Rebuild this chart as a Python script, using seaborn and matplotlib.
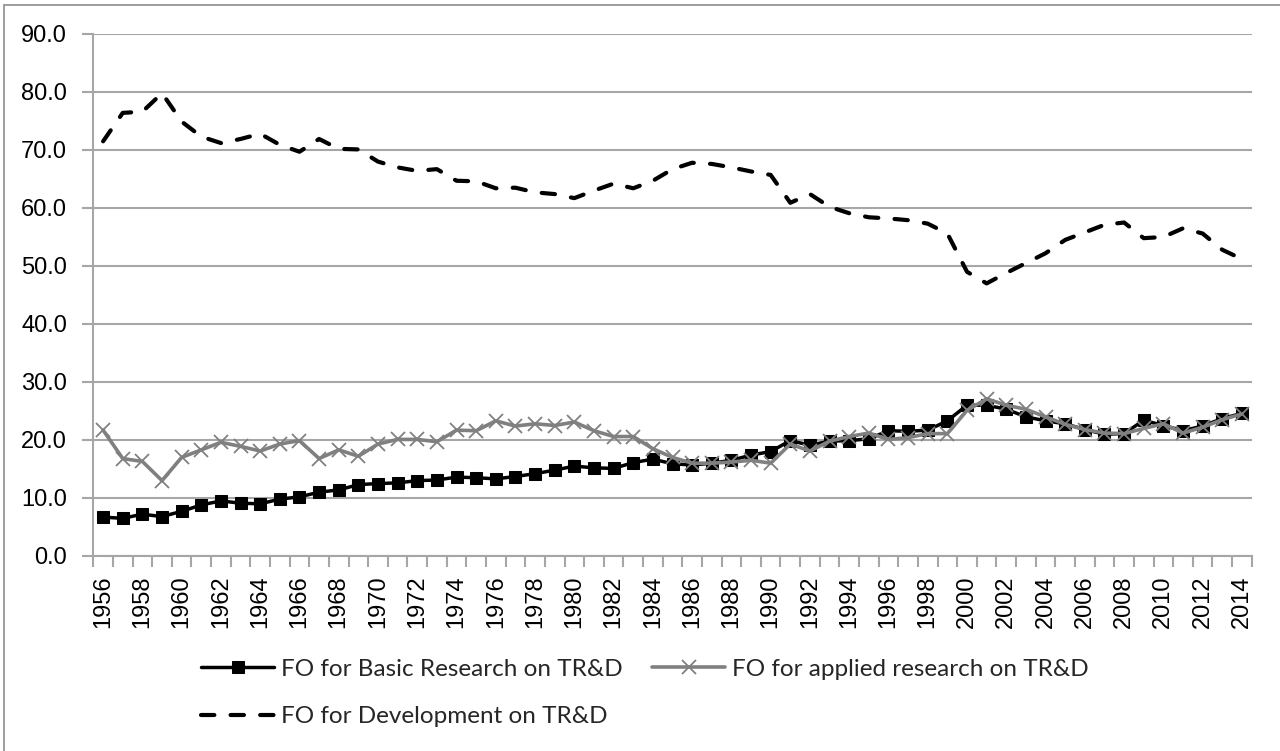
import matplotlib
matplotlib.use("Agg")
import matplotlib.pyplot as plt
import matplotlib.ticker as mticker
from matplotlib.patches import Rectangle
import seaborn as sns
import pandas as pd

years = list(range(1956, 2015))

basic = [6.7, 6.5, 7.2, 6.8, 7.7, 8.8, 9.5, 9.1, 9.0, 9.8,
         10.2, 11.0, 11.4, 12.3, 12.5, 12.6, 13.0, 13.1, 13.6, 13.5,
         13.3, 13.7, 14.2, 14.8, 15.5, 15.2, 15.1, 16.1, 16.7, 15.9,
         15.7, 16.0, 16.5, 17.4, 18.0, 19.9, 19.1, 19.8, 19.9, 20.2,
         21.6, 21.5, 21.7, 23.3, 26.0, 26.0, 25.3, 24.0, 23.3, 22.8,
         21.8, 21.0, 21.1, 23.4, 22.5, 21.6, 22.4, 23.7, 24.6]

applied = [21.7, 16.8, 16.3, 13.0, 17.0, 18.3, 19.6, 18.9, 18.1, 19.3,
           19.9, 16.8, 18.3, 17.2, 19.3, 20.1, 20.1, 19.7, 21.7, 21.6,
           23.3, 22.4, 22.8, 22.5, 23.1, 21.6, 20.6, 20.6, 18.5, 17.0,
           16.0, 16.0, 16.2, 16.5, 16.0, 19.3, 18.1, 19.8, 20.6, 21.2,
           20.1, 20.4, 21.1, 21.1, 25.1, 27.1, 26.0, 25.3, 24.0, 22.7,
           21.8, 21.2, 21.1, 22.0, 22.8, 21.2, 22.2, 23.5, 24.5]

development = [71.5, 76.4, 76.6, 79.8, 74.9, 72.3, 71.2, 71.9, 72.8, 70.9,
               69.7, 71.9, 70.2, 70.1, 68.0, 67.0, 66.4, 66.7, 64.7, 64.6,
               63.4, 63.5, 62.7, 62.4, 61.7, 63.0, 64.2, 63.4, 64.7, 66.7,
               67.8, 67.6, 67.0, 66.3, 65.7, 60.9, 62.4, 60.2, 59.1, 58.4,
               58.2, 57.9, 57.3, 55.6, 49.0, 47.0, 48.8, 50.5, 52.2, 54.5,
               55.8, 57.1, 57.5, 54.8, 55.0, 56.5, 55.6, 52.8, 51.2]

labels = ["FO for Basic Research on TR&D",
          "FO for applied research on TR&D",
          "FO for Development on TR&D"]

df = pd.DataFrame({"year": years, "basic": basic,
                   "applied": applied, "development": development})

sns.set_style("white")
plt.rcParams["font.family"] = ["Liberation Sans", "DejaVu Sans"]

W, H = 1280, 751
fig = plt.figure(figsize=(W / 100, H / 100), dpi=100)
ax = fig.add_axes([93.3 / W, 1 - 556 / H, (1251.7 - 93.3) / W, (556 - 34) / H])

grid_c = "#a6a6a6"
ax.yaxis.grid(True, color=grid_c, linewidth=1.5)
ax.set_axisbelow(True)

sns.lineplot(data=df, x="year", y="basic", ax=ax, color="black",
             linewidth=2.5, marker="s", markersize=9, markeredgecolor="black",
             label=labels[0], legend=False)
sns.lineplot(data=df, x="year", y="applied", ax=ax, color="#808080",
             linewidth=2.6, marker="x", markersize=10, markeredgewidth=1.3,
             markeredgecolor="#808080", label=labels[1], legend=False)
sns.lineplot(data=df, x="year", y="development", ax=ax, color="black",
             linewidth=3.0, linestyle=(0, (3.2, 3.9)), dash_capstyle="round",
             label=labels[2], legend=False)

ax.set_xlim(1955.5, 2014.5)
ax.set_ylim(0, 90)
ax.set_xlabel("")
ax.set_ylabel("")

ax.set_xticks(years[::2])
ax.set_xticks([y - 0.5 for y in years] + [years[-1] + 0.5], minor=True)
ax.tick_params(axis="x", which="major", length=0, pad=14, labelrotation=90,
               labelsize=17, labelcolor="black")
ax.tick_params(axis="x", which="minor", length=8, width=1.5, color=grid_c,
               direction="out", bottom=True)
ax.set_yticks(range(0, 91, 10))
ax.yaxis.set_major_formatter(mticker.FormatStrFormatter("%.1f"))
ax.tick_params(axis="y", which="major", length=8, width=1.5, color=grid_c,
               direction="out", left=True, pad=11, labelsize=17,
               labelcolor="black")

for s in ["top", "right"]:
    ax.spines[s].set_visible(False)
for s in ["left", "bottom"]:
    ax.spines[s].set_color(grid_c)
    ax.spines[s].set_linewidth(1.5)

handles, labs = ax.get_legend_handles_labels()
order = [0, 2, 1]
leg = fig.legend([handles[i] for i in order], [labs[i] for i in order],
                 loc="center", bbox_to_anchor=(645 / W, 1 - 693 / H),
                 ncol=2, frameon=False, handlelength=3.0, handletextpad=0.3,
                 columnspacing=1.2, labelspacing=1.1,
                 prop={"family": ["Lato", "DejaVu Sans"], "size": 17.5})

fig.patches.append(Rectangle((3.5 / W, -0.1), 2.0, 1.1 - 5 / H,
                             transform=fig.transFigure, fill=False,
                             edgecolor="#8c8c8c", linewidth=1.2))

fig.savefig("out.png", dpi=100)
